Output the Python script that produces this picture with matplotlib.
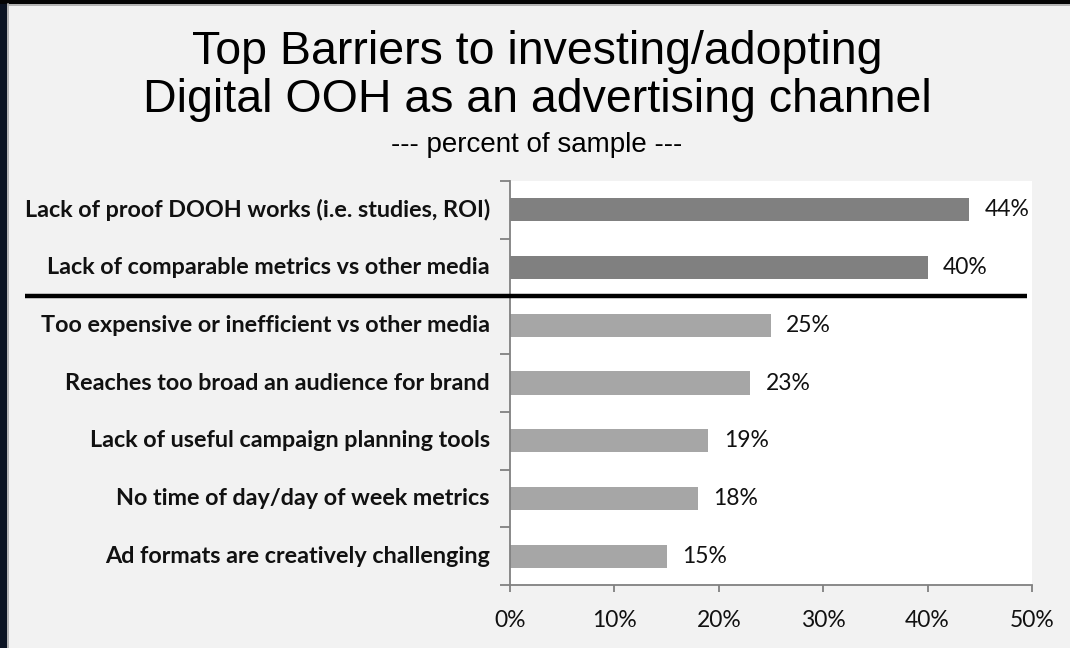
import matplotlib
matplotlib.use("Agg")
import matplotlib.pyplot as plt
from matplotlib.patches import Rectangle
from matplotlib.lines import Line2D
from matplotlib.transforms import blended_transform_factory

# survey results, top to bottom
barriers = [
    "Lack of proof DOOH works (i.e. studies, ROI)",
    "Lack of comparable metrics vs other media",
    "Too expensive or inefficient vs other media",
    "Reaches too broad an audience for brand",
    "Lack of useful campaign planning tools",
    "No time of day/day of week metrics",
    "Ad formats are creatively challenging",
]
percents = [44, 40, 25, 23, 19, 18, 15]
top_group = 2  # the first two barriers get the darker bars
xticks = [0, 10, 20, 30, 40, 50]

W, H = 1070, 648
fig = plt.figure(figsize=(W / 100, H / 100), dpi=100, facecolor="#f2f2f2")

# dark frame on the top and left edge
fig.add_artist(Rectangle((0, 0), 7 / W, 1, transform=fig.transFigure,
                         facecolor="#0b1322", edgecolor="none"))
fig.add_artist(Rectangle((0, 1 - 4 / H), 1, 4 / H, transform=fig.transFigure,
                         facecolor="#050505", edgecolor="none"))
fig.add_artist(Line2D([7.5 / W, 7.5 / W], [0, 1 - 4 / H], transform=fig.transFigure,
                      color="#a8a8a8", lw=1.2))
fig.add_artist(Line2D([7.5 / W, 1], [1 - 4.5 / H, 1 - 4.5 / H], transform=fig.transFigure,
                      color="#a8a8a8", lw=1.2))

ax = fig.add_axes([510 / W, 1 - 585 / H, 522 / W, 404 / H])
ax.set_facecolor("white")

n = len(barriers)
ypos = list(range(n))
colors = ["#808080" if i < top_group else "#a6a6a6" for i in range(n)]
ax.barh(ypos, percents, height=0.4, color=colors)
ax.set_ylim(n - 0.5, -0.5)
ax.set_xlim(0, 50)

for y, v in zip(ypos, percents):
    ax.annotate(f"{v}%", (v, y), xytext=(11, 0), textcoords="offset points",
                va="center", ha="left", fontsize=16.5, family="Lato", color="#111111")

# category labels as text so they can sit left of the boundary ticks
label_tf = blended_transform_factory(fig.transFigure, ax.transData)
for y, name in zip(ypos, barriers):
    ax.text(490 / W, y, name, transform=label_tf, ha="right", va="center",
            fontsize=16.8, fontweight="bold", family="Lato", color="#111111")

ax.set_yticks([i - 0.5 for i in range(n + 1)])
ax.set_yticklabels([])
ax.tick_params(axis="y", length=7, width=1.3, color="#808080", direction="out")
ax.set_xticks(xticks)
ax.set_xticklabels([f"{t}%" for t in xticks], fontsize=16.5, family="Lato", color="#111111")
ax.tick_params(axis="x", length=5, width=1.3, color="#808080", direction="out", pad=13)

for side in ["top", "right"]:
    ax.spines[side].set_visible(False)
for side in ["left", "bottom"]:
    ax.spines[side].set_color("#808080")
    ax.spines[side].set_linewidth(1.3)

# divider between the two leading barriers and the rest
fig.add_artist(Line2D([25 / W, 1027 / W], [top_group - 0.5, top_group - 0.5],
                      transform=label_tf, color="black", lw=3.2, solid_capstyle="butt"))

fig.text(537 / W, 1 - 52 / H, "Top Barriers to investing/adopting", ha="center", va="center",
         fontsize=33.5, family="Liberation Sans", color="black")
fig.text(537 / W, 1 - 100 / H, "Digital OOH as an advertising channel", ha="center", va="center",
         fontsize=33.5, family="Liberation Sans", color="black")
fig.text(537 / W, 1 - 145 / H, "--- percent of sample ---", ha="center", va="center",
         fontsize=20, family="Liberation Sans", color="black")

fig.savefig("out.png", dpi=100, facecolor=fig.get_facecolor())
